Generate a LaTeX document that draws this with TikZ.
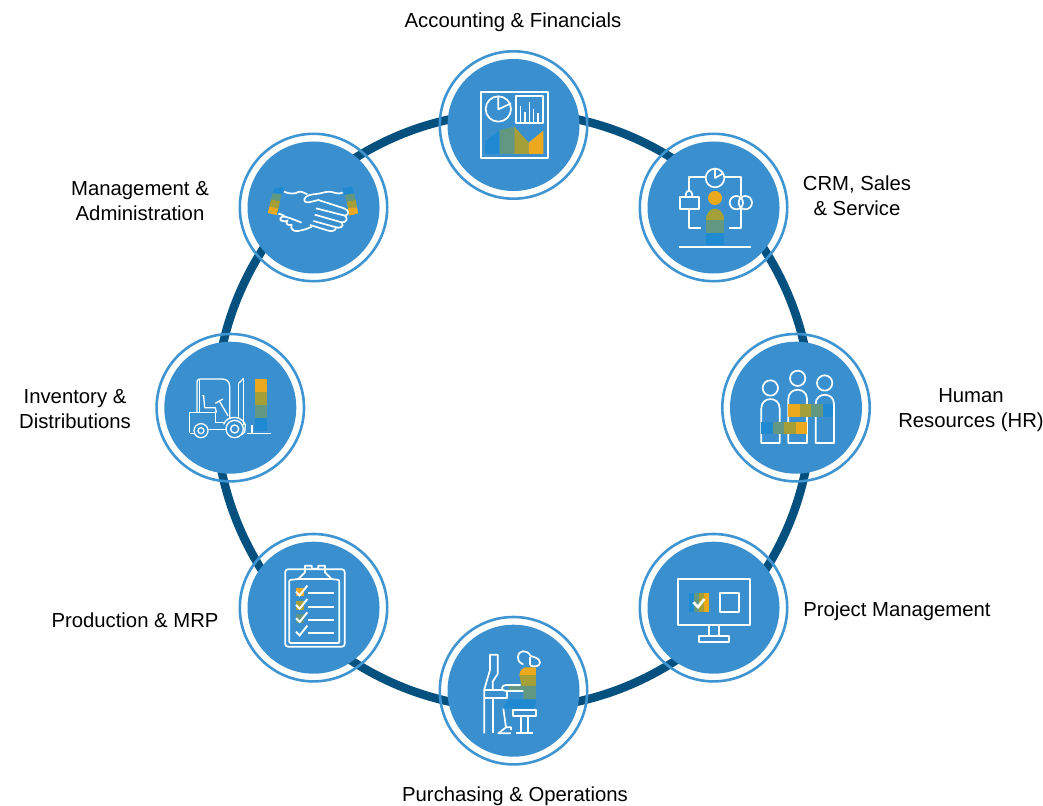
\documentclass[tikz,border=0pt]{standalone}
\usepackage{fontspec}
\setmainfont{Liberation Sans}
\definecolor{ringdark}{HTML}{04507F}
\definecolor{ringlight}{HTML}{3F95D2}
\definecolor{disc}{HTML}{3A90CF}
\definecolor{cor}{HTML}{EDA91E}
\definecolor{col}{HTML}{A59F37}
\definecolor{cgr}{HTML}{629881}
\definecolor{cbl}{HTML}{1F8AD2}
\tikzset{
  hub/.style={circle,fill=disc,draw=none,minimum size=132pt,inner sep=0pt},
  halo/.style={circle,draw=ringlight,line width=2.6pt,fill=none,minimum size=147.4pt,inner sep=0pt},
  lab/.style={font=\fontsize{20.3}{25}\selectfont,align=center,text=black,inner sep=0pt},
  zoomed/.style 2 args={shift={(#1,#2)},x=0.3333pt,y=-0.3333pt},
  ico/.style={draw=white,line width=1.7pt,line join=round,fill=none},
  thin ico/.style={draw=white,line width=1.3pt,line join=round,fill=none}
}
\begin{document}
\begin{tikzpicture}[x=1pt,y=-1pt]
\useasboundingbox[fill=white] (0,0) rectangle (1043,805);
% big ring
\coordinate (centre) at (513.5,410.5);
\draw[ringdark,line width=8.5pt] (centre) circle[radius=298];
% hubs
\foreach \n/\x/\y in {acc/513.5/125,crm/713.5/207.5,hr/796/407.7,pm/713.5/607.7,pur/513.5/690.7,prod/313.5/607.7,inv/230.3/407.7,mgt/313.5/207.5}{
  \node[halo] (\n halo) at (\x,\y) {};
  \node[hub] (\n) at (\x,\y) {};
}
% labels
\node[lab] (lacc) at (513,22) {Accounting \& Financials};
\node[lab] (lcrm) at (857,195.5) {CRM, Sales\\\& Service};
\node[lab] (lhr) at (971,410.5) {Human\\Resources (HR)};
\node[lab] (lpm) at (897,611) {Project Management};
\node[lab] (lpur) at (515,796.5) {Purchasing \& Operations};
\node[lab] (lprod) at (135,620) {Production \& MRP};
\node[lab] (linv) at (75,409.5) {Inventory \&\\Distributions};
\node[lab] (lmgt) at (140,201.5) {Management \&\\Administration};
% Accounting icon
\begin{scope}[zoomed={430}{40}]
  \fill[cbl] (165,342)--(165,305)--(209,270)--(209,342)--cycle;
  \fill[cgr] (209,342)--(209,270)--(253,260)--(253,342)--cycle;
  \fill[col] (253,342)--(253,260)--(296,308)--(296,342)--cycle;
  \fill[cor] (296,342)--(296,308)--(340,272)--(340,342)--cycle;
  \draw[ico] (153,156) rectangle (353,353);
  \draw[ico] (205,207) circle[radius=38];
  \draw[ico] (205,170)--(205,208)--(243,190);
  \draw[ico] (259,168) rectangle (339,248);
  \foreach \xx/\yy in {271/198,285/215,298/186,311/206,324/218}{
    \draw[thin ico] (\xx,245)--(\xx,\yy);
  }
\end{scope}
% CRM icon
\begin{scope}[zoomed={630}{125}]
  \fill[cor] (255,219) circle[radius=21];
  \fill[col] (228,286) .. controls (228,240) and (283,240) .. (283,286)--cycle;
  \fill[cgr] (228,286) rectangle (283,323);
  \fill[cbl] (228,323) rectangle (283,361);
  \draw[ico] (255,159) circle[radius=28];
  \draw[ico] (255,131)--(255,159)--(280,145);
  \draw[ico] (227,155)--(177,155)--(177,196);
  \draw[ico] (149,215) rectangle (207,253);
  \draw[ico] (167,215) .. controls (167,190) and (187,190) .. (187,215);
  \draw[ico] (177,253)--(177,309)--(212,309);
  \draw[ico] (283,155)--(333,155)--(333,212);
  \draw[ico] (333,253)--(333,309)--(298,309);
  \draw[ico] (319,233) circle[radius=20];
  \draw[ico] (346,233) circle[radius=20];
  \draw[ico] (148,365)--(362,365);
\end{scope}
% HR icon
\begin{scope}[zoomed={712}{325}]
  \foreach \hx/\hy/\bl/\br/\by in {175/189/148/203/250,257/160/229/285/222,338/174/311/366/237}{
    \draw[ico] (\hx,\hy) circle[radius=23];
    \draw[ico] (\bl,354)--(\bl,\by) .. controls (\bl,\by-37) and (\br,\by-37) .. (\br,\by)--(\br,354)--cycle;
  }
  \fill[cor] (229,237) rectangle (263,275);
  \fill[col] (263,237) rectangle (298,275);
  \fill[cgr] (298,237) rectangle (333,275);
  \fill[cbl] (333,237) rectangle (363,275);
  \fill[cbl] (148,290) rectangle (182,328);
  \fill[cgr] (182,290) rectangle (216,328);
  \fill[col] (216,290) rectangle (251,328);
  \fill[cor] (251,290) rectangle (286,328);
\end{scope}
% PM icon
\begin{scope}[zoomed={630}{525}]
  \fill[cbl] (176,203) rectangle (192,262);
  \fill[cgr] (192,203) rectangle (207,262);
  \fill[col] (207,203) rectangle (222,262);
  \fill[cor] (222,203) rectangle (237,262);
  \draw[ico] (145,163) rectangle (359,301);
  \draw[ico] (271,204) rectangle (328,261);
  \draw[draw=white,line width=2.6pt] (190,232)--(204,246)--(223,222);
  \draw[ico] (238,301)--(238,333);
  \draw[ico] (266,301)--(266,333);
  \draw[ico] (208,333) rectangle (297,351);
\end{scope}
% Purchasing icon
\begin{scope}[zoomed={430}{610}]
  \fill[cor] (268,195) .. controls (270,180) and (278,172) .. (290,172)--(318,172)--(318,195)--cycle;
  \fill[col] (268,195)--(318,195)--(318,228)--(275,228)--cycle;
  \fill[cgr] (235,228)--(318,228)--(318,268)--(280,268)--(280,245)--(235,245)--cycle;
  \fill[cbl] (220,296) .. controls (222,280) and (232,268) .. (248,268)--(318,268)--(318,280) .. controls (316,288) and (310,296) .. (300,296)--cycle;
  % monitor and desk
  \draw[ico] (203,192)--(203,134)--(180,134)--(180,180)--(163,238)--(163,370);
  \draw[ico] (203,192)--(188,215)--(188,240);
  \draw[ico] (163,240)--(218,240);
  \draw[ico] (163,263)--(232,263)--(232,245);
  \draw[ico] (188,263)--(188,370);
  % head
  \draw[ico] (300,166) .. controls (312,172) and (330,170) .. (330,157) .. controls (328,143) and (312,142) .. (302,138) .. controls (292,118) and (265,118) .. (264,142) .. controls (264,155) and (272,160) .. (280,164);
  \draw[ico] (299,140)--(299,166);
  % arm
  \draw[ico] (272,225)--(228,225) .. controls (212,225) and (212,243) .. (228,243)--(280,243);
  % leg, foot and stool
  \draw[ico] (220,296)--(228,352)--(243,352)--(243,360);
  \draw[ico] (228,352)--(205,370)--(243,370);
  \draw[ico] (250,300) rectangle (318,318);
  \draw[ico] (272,318)--(272,369);
  \draw[ico] (295,318)--(295,369);
  \draw[ico] (258,369)--(308,369);
\end{scope}
% Production icon
\begin{scope}[zoomed={230}{525}]
  \fill[cor] (197,188) rectangle (222,214);
  \fill[col] (197,228) rectangle (222,254);
  \fill[cgr] (197,268) rectangle (222,294);
  \draw[ico,rounded corners=2.5pt] (166,133) rectangle (344,365);
  \draw[ico,rounded corners=1pt] (205,162)--(178,165)--(178,354)--(328,354)--(328,165)--(305,162);
  \draw[ico] (205,162)--(225,142)--(225,122)--(245,122)--(245,131)--(265,131)--(265,122)--(285,122)--(285,142)--(305,162)--cycle;
  \foreach \dy in {0,40,80,120}{
    \draw[draw=white,line width=1.9pt] (198,200+\dy)--(209,211+\dy)--(232,182+\dy);
    \draw[ico] (235,205+\dy)--(312,205+\dy);
  }
\end{scope}
% Inventory icon
\begin{scope}[zoomed={147}{325}]
  \fill[cor] (323,163) rectangle (360,201);
  \fill[col] (323,201) rectangle (360,240);
  \fill[cgr] (323,240) rectangle (360,279);
  \fill[cbl] (323,279) rectangle (360,318);
  \begin{scope}[thin ico]
  \draw (150,263)--(150,172) .. controls (150,165) and (153,162) .. (160,162)--(225,162) .. controls (240,162) and (248,170) .. (248,185)--(248,280);
  \draw (158,163)--(158,263);
  \draw (128,325)--(128,263)--(205,263)--(205,292)--(234,292);
  \draw (128,325)--(141,325);
  \draw (166,212)--(170,212)--(173,248)--(205,248)--(208,263);
  \draw (162,317) circle[radius=21];
  \draw (162,317) circle[radius=9];
  \draw (263,312) circle[radius=26];
  \draw (263,312) circle[radius=12];
  \draw (183,313)--(237,313);
  \draw (205,235)--(228,222);
  \draw (218,230)--(243,272);
  \draw (230,298) .. controls (240,270) and (285,270) .. (295,300)--(293,322)--(283,330);
  \draw (275,175)--(275,280);
  \draw (290,160)--(290,300);
  \draw (275,175)--(290,160);
  \draw (300,325)--(372,325);
  \draw (315,300)--(315,325);
  \end{scope}
\end{scope}
% Management icon
\begin{scope}[zoomed={230}{125}]
  \fill[cbl] (134,190)--(162,185)--(155,208)--(128,205)--cycle;
  \fill[cgr] (128,205)--(155,208)--(150,228)--(123,224)--cycle;
  \fill[col] (123,224)--(150,228)--(145,250)--(118,245)--cycle;
  \fill[cor] (118,245)--(145,250)--(140,270)--(113,264)--cycle;
  \fill[cbl] (338,190)--(366,185)--(372,205)--(344,210)--cycle;
  \fill[cgr] (344,210)--(372,205)--(377,225)--(350,230)--cycle;
  \fill[col] (350,230)--(377,225)--(381,247)--(354,250)--cycle;
  \fill[cor] (354,250)--(381,247)--(385,265)--(358,272)--cycle;
  \begin{scope}[ico]
  \draw (162,200) .. controls (180,208) and (195,207) .. (205,201) .. controls (215,197) and (222,205) .. (232,208);
  \draw (338,203) .. controls (322,210) and (310,200) .. (298,200) .. controls (285,200) and (270,207) .. (250,208) .. controls (232,209) and (218,220) .. (224,229) .. controls (228,236) and (245,230) .. (265,225)--(342,250) .. controls (358,255) and (358,270) .. (345,272)--(258,250);
  \draw (345,272) .. controls (356,280) and (348,294) .. (335,292)--(254,269);
  \draw (335,292) .. controls (345,305) and (328,312) .. (315,306)--(250,288);
  \draw (318,307) .. controls (318,318) and (305,320) .. (295,317)--(240,300);
  % lower left knuckles
  \draw (145,266) .. controls (155,268) and (160,270) .. (165,275) .. controls (150,272) and (145,288) .. (158,288) .. controls (165,290) and (170,290) .. (173,286) .. controls (165,296) and (172,302) .. (185,300) .. controls (180,312) and (190,320) .. (205,318) .. controls (220,315) and (232,312) .. (245,305);
  \draw (165,275) .. controls (178,278) and (195,285) .. (215,293);
  \end{scope}
\end{scope}
\end{tikzpicture}
\end{document}
